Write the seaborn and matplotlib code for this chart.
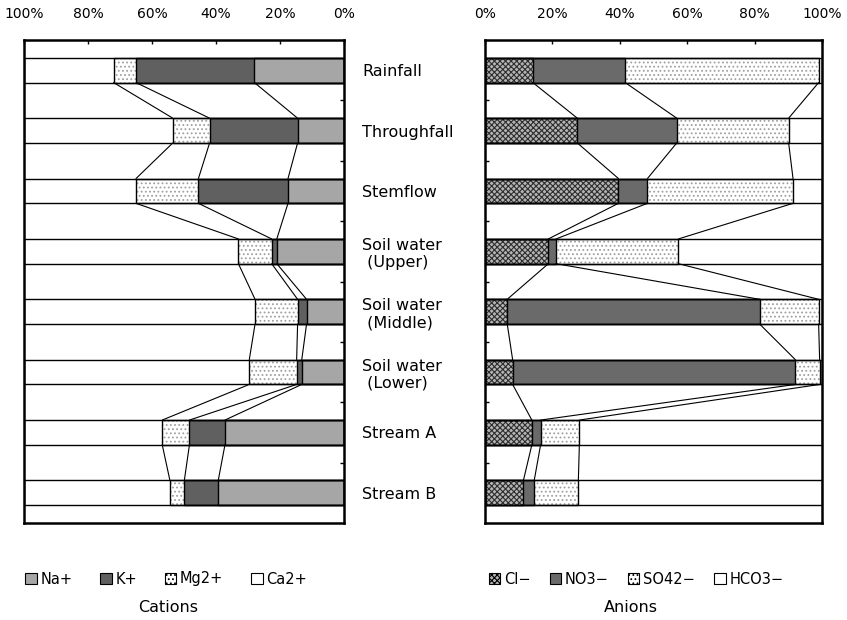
import numpy as np
import matplotlib
matplotlib.use("Agg")
import matplotlib.pyplot as plt
import matplotlib.patches as mpatches
import seaborn as sns

sns.set_style("white")
plt.rcParams["font.family"] = ["DejaVu Sans"]
plt.rcParams["hatch.linewidth"] = 0.8
plt.rcParams["text.color"] = "black"
plt.rcParams["xtick.color"] = "black"
plt.rcParams["ytick.color"] = "black"
plt.rcParams["axes.labelcolor"] = "black"

# sampling points, top to bottom
sites = ["Rainfall", "Throughfall", "Stemflow",
         "Soil water\n (Upper)", "Soil water\n (Middle)", "Soil water\n (Lower)",
         "Stream A", "Stream B"]

# cation composition (% of equivalents)
cation_names = ["Na+", "K+", "Mg2+", "Ca2+"]
na = [28.0, 14.5, 17.5, 21.0, 11.7, 13.2, 37.2, 39.3]
k = [37.0, 27.5, 28.0, 1.6, 2.8, 1.6, 11.1, 10.6]
mg = [7.0, 11.5, 19.5, 10.4, 13.3, 14.8, 8.5, 4.5]
ca = [28.0, 46.5, 35.0, 67.0, 72.2, 70.4, 43.2, 45.6]

# anion composition (% of equivalents)
anion_names = ["Cl\u2212", "NO3\u2212", "SO42\u2212", "HCO3\u2212"]
cl = [14.2, 27.4, 39.6, 18.8, 6.6, 8.2, 13.9, 11.4]
no3 = [27.4, 29.5, 8.6, 2.3, 74.9, 83.9, 2.6, 3.2]
so4 = [57.4, 33.2, 43.2, 36.3, 17.5, 7.2, 11.5, 13.1]
hco3 = [1.0, 9.9, 8.6, 42.6, 1.0, 0.7, 72.0, 72.3]

pct_ticks = [0, 20, 40, 60, 80, 100]
pct_labels = [f"{t}%" for t in pct_ticks]

BAR_H = 0.41

cation_styles = [
    dict(face="#a6a6a6", hatch=None, hc="#a6a6a6"),
    dict(face="#606060", hatch=None, hc="#606060"),
    dict(face="white", hatch="....", hc="#a0a0a0"),
    dict(face="white", hatch=None, hc="white"),
]
anion_styles = [
    dict(face="#b4b4b4", hatch="xxxxxx", hc="#2e2e2e"),
    dict(face="#6a6a6a", hatch=None, hc="#6a6a6a"),
    dict(face="white", hatch="....", hc="#a0a0a0"),
    dict(face="white", hatch=None, hc="white"),
]


def draw_panel(ax, series, styles):
    cum = np.cumsum(np.array(series, dtype=float), axis=0)
    n = len(sites)
    # filled layers, widest cumulative first so narrower ones sit on top
    for j in reversed(range(len(series))):
        st = styles[j]
        before = len(ax.patches)
        sns.barplot(x=cum[j], y=sites, orient="h", color=st["face"],
                    saturation=1, width=BAR_H, errorbar=None, ax=ax)
        for p in ax.patches[before:]:
            p.set_facecolor(st["face"])
            p.set_edgecolor(st["hc"])
            p.set_linewidth(0)
            if st["hatch"]:
                p.set_hatch(st["hatch"])
    # black outlines of every segment boundary
    for j in reversed(range(len(series))):
        before = len(ax.patches)
        sns.barplot(x=cum[j], y=sites, orient="h", color="black",
                    saturation=1, width=BAR_H, errorbar=None, ax=ax)
        for p in ax.patches[before:]:
            p.set_fill(False)
            p.set_edgecolor("black")
            p.set_linewidth(1.0)
    # series lines joining the boundaries of neighbouring bars
    for j in range(len(series) - 1):
        for i in range(n - 1):
            ax.plot([cum[j][i], cum[j][i + 1]],
                    [i + BAR_H / 2, i + 1 - BAR_H / 2],
                    color="black", lw=0.8, zorder=3)
    ax.set_ylim(n - 0.5, -0.5)
    ax.set_xticks(pct_ticks)
    ax.set_xticklabels(pct_labels)
    ax.xaxis.tick_top()
    ax.tick_params(axis="x", direction="in", length=3, pad=14,
                   labelsize=10, width=1)
    ax.set_yticks(np.arange(n - 1) + 0.5, minor=True)
    ax.tick_params(axis="y", which="minor", direction="in", length=3, width=1)
    ax.set_xlabel("")
    ax.set_ylabel("")
    for s in ax.spines.values():
        s.set_linewidth(1.8)
        s.set_color("black")


fig = plt.figure(figsize=(8.47, 6.2), dpi=100)
W, H = 847, 620
axL = fig.add_axes([24 / W, 1 - 523 / H, 320 / W, 483 / H])
axR = fig.add_axes([485 / W, 1 - 523 / H, 337 / W, 483 / H])

draw_panel(axL, [na, k, mg, ca], cation_styles)
draw_panel(axR, [cl, no3, so4, hco3], anion_styles)

axL.set_xlim(100, 0)
axR.set_xlim(0, 100)

axL.yaxis.tick_right()
axL.set_yticks(range(len(sites)))
axL.set_yticklabels(sites, ha="left", fontsize=11.5)
axL.tick_params(axis="y", which="major", length=0, pad=13)
axL.tick_params(axis="y", which="minor", right=True, left=False)

axR.set_yticks(range(len(sites)))
axR.set_yticklabels([])
axR.tick_params(axis="y", which="major", length=0)
axR.tick_params(axis="y", which="minor", left=True, right=False)


def legend_handles(names, styles):
    hs = []
    for name, st in zip(names, styles):
        hs.append(mpatches.Patch(facecolor=st["face"], edgecolor="black",
                                 hatch=st["hatch"], linewidth=0.8, label=name))
    return hs


axL.legend(handles=legend_handles(cation_names, cation_styles),
           loc="center", bbox_to_anchor=(166 / W, 1 - 579 / H),
           bbox_transform=fig.transFigure, ncol=4, frameon=False,
           handlelength=0.8, handleheight=0.8, handletextpad=0.25,
           columnspacing=1.9, fontsize=10.5)
axR.legend(handles=legend_handles(anion_names, anion_styles),
           loc="center", bbox_to_anchor=(636 / W, 1 - 579 / H),
           bbox_transform=fig.transFigure, ncol=4, frameon=False,
           handlelength=0.8, handleheight=0.8, handletextpad=0.25,
           columnspacing=1.3, fontsize=10.5)

fig.text(168 / W, 1 - 607 / H, "Cations", ha="center", va="center", fontsize=11.5)
fig.text(631 / W, 1 - 607 / H, "Anions", ha="center", va="center", fontsize=11.5)

fig.savefig("out.png", dpi=100)
